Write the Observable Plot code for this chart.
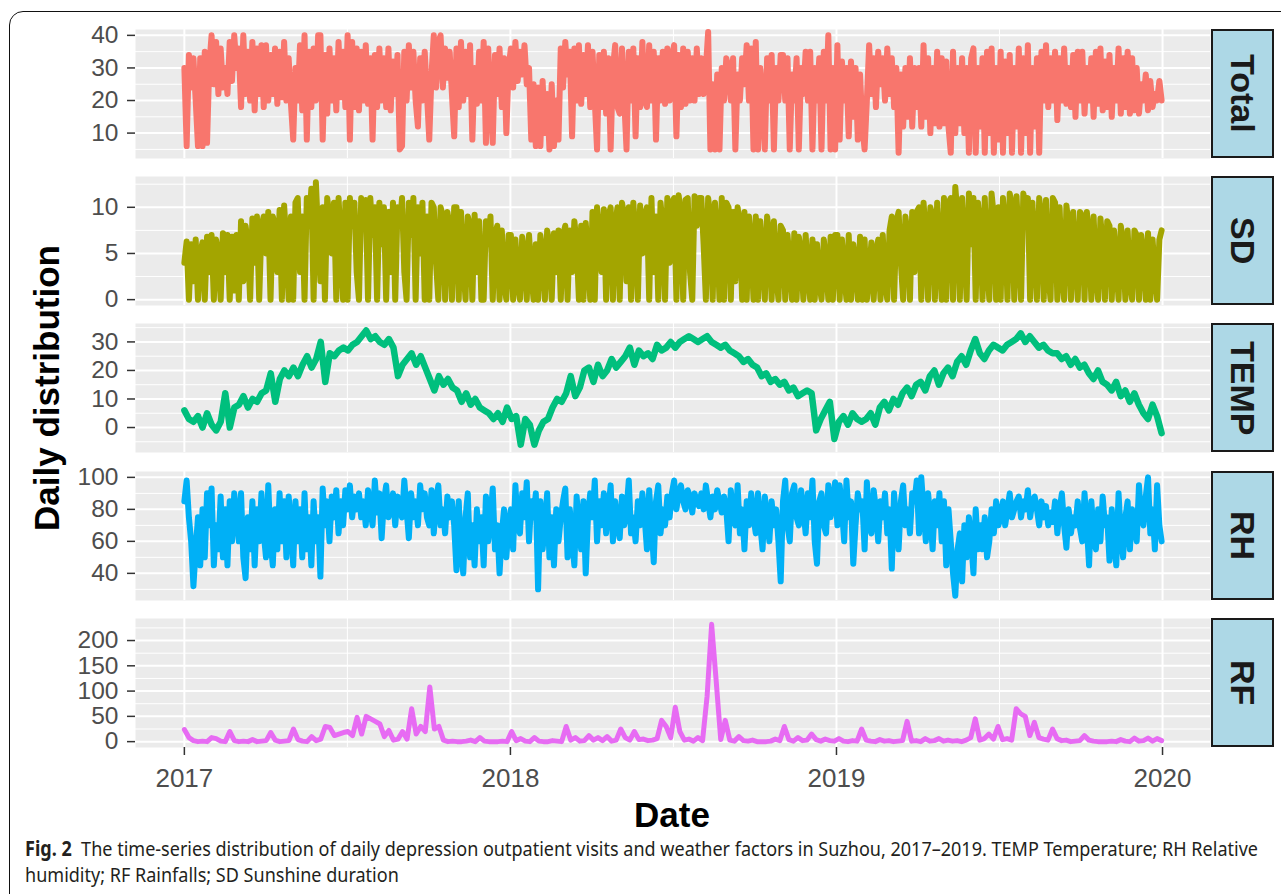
<!DOCTYPE html>
<html>
<head>
<meta charset="utf-8">
<script src="https://cdn.jsdelivr.net/npm/d3@7"></script>
<script src="https://cdn.jsdelivr.net/npm/@observablehq/plot@0.6"></script>
<style>
  html, body { margin: 0; padding: 0; background: #fff; }
  body { width: 1281px; height: 894px; overflow: hidden; position: relative; font-family: "Liberation Sans", Arial, sans-serif; }
  #frame { position: absolute; left: 9px; top: 11px; width: 1320px; height: 940px; border: 1.5px solid #111; border-radius: 14px; box-sizing: border-box; }
  .panel { position: absolute; left: 0; }
  .strip { position: absolute; left: 1211px; width: 63px; box-sizing: border-box; background: #ADD8E6; border: 2px solid #1a1a1a; display: flex; align-items: center; justify-content: center; }
  .strip span { writing-mode: vertical-rl; font-weight: bold; font-size: 34px; color: #1a1a1a; line-height: 1; }
  #ytitle { position: absolute; left: 46px; top: 388px; transform: translate(-50%, -50%) rotate(-90deg); white-space: nowrap; font-weight: bold; font-size: 35px; color: #000; line-height: 1; }
  #xtitle { position: absolute; left: 572px; width: 200px; top: 797px; text-align: center; font-weight: bold; font-size: 35px; color: #000; line-height: 1; }
  .cap { position: absolute; left: 25px; white-space: nowrap; font-family: "Noto Sans", "Open Sans", sans-serif; font-size: 20.5px; line-height: 20px; color: #231F20; transform-origin: 0 0; }
  .cap b { font-weight: bold; }
</style>
</head>
<body>
<div id="frame"></div>
<div id="panels"></div>
<div id="ytitle">Daily distribution</div>
<div id="xtitle">Date</div>
<div class="cap" id="cap1" style="top:838px"><b>Fig. 2</b>&nbsp;&nbsp;The time-series distribution of daily depression outpatient visits and weather factors in Suzhou, 2017–2019. TEMP Temperature; RH Relative</div>
<div class="cap" id="cap2" style="top:864px">humidity; RF Rainfalls; SD Sunshine duration</div>
<script>
// ---- Data, samples evenly spaced from 2017-01-01 to 2019-12-31 ----
const seriesNames = ["Total", "SD", "TEMP", "RH", "RF"];
const seriesColors = ["#F8766D", "#A3A500", "#00BF7D", "#00B0F6", "#E76BF3"];

// Total: 12 samples per month
const total = [
  30,6,34,24,33,20,6,33,6,35,7,31,   40,25,38,22,36,24,30,22,38,26,40,30,
  36,18,40,22,35,20,38,17,36,22,37,18, 37,20,34,22,36,19,35,21,38,20,33,19,
  8,30,20,37,17,40,8,35,18,36,20,40,  40,8,34,16,36,20,33,17,38,21,35,18,
  40,8,38,18,36,17,35,20,37,19,33,8,  34,18,36,20,33,18,36,17,32,22,34,5,
  6,35,20,37,24,35,20,12,33,20,35,22, 8,28,40,24,38,40,24,36,27,35,22,9,
  36,18,38,20,35,22,37,8,30,19,35,20, 38,7,36,20,7,34,22,36,18,33,10,30,
  36,24,38,26,35,28,37,25,30,8,25,6,  24,6,26,10,22,5,25,6,20,8,36,24,
  38,28,35,9,36,20,37,19,34,22,37,18, 35,20,5,34,18,35,16,33,5,30,37,18,
  16,36,20,5,35,20,36,9,33,18,38,20,  18,37,20,35,8,33,20,35,19,36,20,33,
  37,9,34,18,36,19,35,20,33,20,36,22, 33,22,30,41,5,25,5,28,5,30,20,33,
  30,20,33,5,28,20,33,25,37,20,36,5,  38,5,30,20,5,33,20,34,5,30,20,34,
  34,20,33,5,28,20,33,5,30,22,35,20,  35,5,30,20,33,5,35,20,40,5,30,5,
  37,8,32,20,30,9,32,15,30,8,28,12,   5,20,37,22,33,18,35,25,33,20,36,22,
  33,18,30,4,28,12,30,15,33,12,30,18, 30,12,37,15,33,10,30,13,35,12,33,13,
  32,12,4,35,10,30,13,33,10,30,4,33,  36,4,30,12,33,4,35,10,36,4,30,8,
  35,4,32,10,34,4,30,12,36,4,33,10,   37,4,30,12,33,4,35,20,37,18,33,20,
  35,14,33,20,36,19,30,18,34,15,35,20, 35,16,30,20,33,15,35,19,36,17,32,18,
  34,15,30,20,36,16,33,18,35,16,33,17, 30,16,25,20,28,17,26,18,22,20,26,20
];

// SD: 12 samples per month
const sd = [
  4,6.3,0,6,2,6.5,0,5,6.2,0,6.8,3,       7,0,6.5,5,0,7.2,3,7,0,6.8,1,7,
  0,8.5,2,8,6,0,8.8,4,9,0,8,9,           5,9.5,0,9,8,3,9.7,0,10.2,6,0,9,
  0,10.5,11,3,9,0,11,8,12,0,12.7,7,      2,10,0,11,9,5,10.5,0,11,6,0,10.5,
  0,11,8,10.5,3,0,11,9,10.8,0,11,7,      10,0,10.5,6,10,0,9.5,3,10.5,0,10,8,
  11,3,0,10.5,7,11,0,10,5,10.5,0,9,      0,10.5,10,4,0,10,9,0,9.5,8,0,10,
  10,0,9.5,4,0,9,8,0,9.2,3,8.5,0,        0,8.5,6,9,0,7,8,0,7.5,2,0,7,
  7,0,6.5,2,0,6.8,5,0,7,3,0,6,           0,7,5,0,7.5,6,0,7.2,3,7.5,0,7,
  8,0,7.5,3,8.5,6,0,8,0,8.3,5,0,         9.5,0,10,7,3,9.8,0,9,10,0,8,10,
  0,10.5,9,2,10,0,10.5,7,0,10.2,5,9,     10,0,11,3,9,0,10.5,8,0,11,4,10.5,
  11,0,11.3,9,0,10.8,11,3,0,11.2,8,11,   11,6,0,11,9,0,10.5,7,0,11,0,10.5,
  10,0,9.5,2,10,8,0,9.5,0,9,6,0,         9,0,8.5,5,0,9,7,0,8.5,3,0,8,
  7.5,0,7,4,0,7.2,0,6.8,5,0,7,3,         0,6.5,0,6,2,0,6.5,4,0,6.8,0,7,
  7,0,6.5,3,0,7,0,6,4,0,6.8,0,           6.5,0,3,6.2,0,5,6.5,0,7,2,0,7.5,
  9,0,8.5,9.5,4,0,9,7,0,9.5,3,9.5,       10,0,10.5,7,0,10,9,0,10.5,5,0,11,
  0,10.5,11,0,12.2,9,0,11,6,0,11.5,6,    11,0,10.5,8,0,11,4,0,11.5,9,0,10,
  0,11,8,0,11.5,10,0,11.2,6,0,11.5,10,   11,0,10.5,6,0,11,9,0,10.8,3,0,11,
  10.5,0,10,3,0,10.2,8,0,9.5,5,0,9.5,    9,0,9.5,7,0,9,3,0,8.8,6,0,8.5,
  8,0,7.5,4,0,8,6,0,7.5,2,0,7.5,         7,0,7,5,0,7.2,0,6.5,3,0,6.5,7.5
];

// TEMP: 6 samples per month
const temp = [
  6,3,2,4,0,5, 1,-1,2,12,0,7, 8,11,7,10,9,12, 13,19,9,17,20,18,
  21,18,22,25,21,24, 30,16,26,25,27,28, 27,29,30,32,34,31, 32,30,29,31,28,18,
  22,24,26,22,25,21, 17,13,18,15,17,14, 13,9,12,8,10,7, 6,5,3,5,2,7,
  3,4,-6,3,1,-6, -1,2,3,7,10,9, 12,18,11,14,20,21, 16,22,18,20,24,21,
  23,25,28,22,27,25, 26,24,29,27,28,30, 28,30,31,32,31,30, 31,32,30,29,28,29,
  27,26,25,23,24,22, 21,18,19,16,17,15, 16,13,14,11,12,13, 12,-1,3,6,9,-4,
  2,4,1,5,3,2, 3,5,1,7,9,6, 10,8,12,14,11,15, 16,13,18,20,15,19,
  21,18,23,25,22,27, 31,26,24,27,29,28, 27,29,30,31,33,30, 32,30,28,29,27,26,
  26,24,25,22,24,21, 22,19,17,20,16,15, 13,16,11,13,9,12, 8,5,3,8,4,-2
];

// RH: 12 samples per month
const rh = [
  85,98,75,60,32,55,75,45,80,50,90,70,  93,45,70,55,88,50,80,45,85,60,90,75,
  60,90,50,37,75,55,85,45,80,60,90,65,  50,95,60,45,80,55,90,60,85,50,88,70,
  45,85,60,80,50,90,55,75,45,85,60,75,  38,93,70,85,60,88,75,92,65,85,70,92,
  80,95,75,88,80,90,75,85,70,92,80,70,  98,78,90,62,85,95,75,80,90,70,88,80,
  75,98,80,62,90,75,85,70,95,80,90,75,  70,92,65,85,95,70,80,65,88,75,85,70,
  42,85,55,40,75,90,50,70,45,80,60,75,  45,88,60,75,93,55,70,40,65,80,50,70,
  80,55,95,70,65,90,75,97,60,85,75,90,  30,85,55,70,90,50,75,45,80,60,75,85,
  93,50,80,60,45,88,70,55,85,40,75,90,  75,98,60,85,70,90,65,80,95,60,85,70,
  62,88,70,80,98,65,75,60,85,70,90,75,  55,92,70,47,85,95,65,80,70,88,75,90,
  98,80,90,95,85,80,92,88,78,90,85,82,  90,80,95,85,75,88,80,92,85,78,88,80,
  60,92,75,70,95,65,80,55,85,70,90,75,  65,90,70,55,88,75,60,85,70,80,60,35,
  85,98,70,60,90,95,75,70,92,80,65,90,  75,98,60,46,85,90,70,65,95,75,85,97,
  70,95,80,60,98,75,85,46,70,90,80,85,  55,97,70,65,92,80,60,85,75,90,65,80,
  43,90,70,55,85,95,70,80,65,90,85,98,  65,100,80,60,90,75,55,85,70,90,60,85,
  45,80,60,40,26,55,65,35,70,50,75,60,  40,80,55,70,55,75,50,60,80,65,85,70,
  75,85,70,80,90,75,80,85,88,75,85,80,  92,75,85,88,80,70,85,75,82,70,78,72,
  85,65,80,90,70,56,80,65,75,70,85,68,  60,90,70,45,85,65,55,80,60,88,70,75,
  48,80,60,45,90,65,50,75,85,55,80,70,  60,95,75,70,88,100,65,80,55,95,70,60
];

// RF: 216 samples (about every 5 days)
const rf = [
  24,8,2,0,1,0,8,6,1,0,20,2,
  0,1,0,4,0,1,2,18,3,0,1,2,
  25,4,1,0,10,2,5,30,28,12,15,18,
  20,12,48,15,50,45,40,35,10,22,3,5,
  20,5,65,15,30,20,108,25,30,3,0,1,
  0,0,1,3,0,8,1,0,0,0,1,0,
  20,2,6,1,0,8,1,0,0,2,1,0,
  30,3,8,1,2,12,3,8,2,10,1,3,
  25,8,3,20,4,5,2,3,6,42,30,8,
  68,20,3,5,1,8,2,90,232,120,4,42,
  3,1,10,2,1,3,0,0,0,1,5,2,
  30,4,1,8,2,3,15,4,1,5,2,1,
  6,1,0,2,1,25,3,1,0,4,1,2,
  0,1,2,40,1,2,0,6,1,2,6,1,
  3,1,2,0,3,8,45,3,6,15,5,30,
  4,6,3,65,55,50,12,38,8,5,3,25,
  6,2,3,0,1,2,12,3,1,0,0,0,
  1,0,4,1,0,7,1,2,7,1,6,2
];

// tick labels
const yearTicks = ["2017-01-01", "2018-01-01", "2019-01-01", "2020-01-01"];
const yearMinorTicks = ["2017-07-02T12:00", "2018-07-02T12:00", "2019-07-02T12:00"];
const totalTicks = [10, 20, 30, 40], totalMinor = [5, 15, 25, 35];
const sdTicks = [0, 5, 10], sdMinor = [2.5, 7.5, 12.5];
const tempTicks = [0, 10, 20, 30], tempMinor = [-5, 5, 15, 25, 35];
const rhTicks = [40, 60, 80, 100], rhMinor = [30, 50, 70, 90];
const rfTicks = [0, 50, 100, 150, 200], rfMinor = [25, 75, 125, 175, 225];

// ---- build ----
const startDate = Date.UTC(2017, 0, 1);
const endDate = Date.UTC(2019, 11, 31);
const span = endDate - startDate;
const xDomain = [new Date(startDate - span * 0.05), new Date(endDate + span * 0.05)];
const years = yearTicks.map(s => new Date(s + "T00:00Z"));
const yearsMinor = yearMinorTicks.map(s => new Date(s + "Z"));

function expand(lo, hi) { const r = hi - lo; return [lo - 0.05 * r, hi + 0.05 * r]; }
function rowsOf(values) {
  const n = values.length;
  return values.map((v, j) => ({date: new Date(startDate + span * j / (n - 1)), value: v}));
}

const panels = [
  {values: total, ticks: totalTicks, minor: totalMinor, domain: expand(4, 40), sw: 6},
  {values: sd, ticks: sdTicks, minor: sdMinor, domain: expand(0, 12.7), sw: 6},
  {values: temp, ticks: tempTicks, minor: tempMinor, domain: expand(-6.7, 34.4), sw: 6.5},
  {values: rh, ticks: rhTicks, minor: rhMinor, domain: expand(26.7, 100), sw: 6},
  {values: rf, ticks: rfTicks, minor: rfMinor, domain: expand(0, 232), sw: 5}
];

const container = document.getElementById("panels");
const panelH = 129, firstTop = 29, pitch = 147.2;
const tickFont = 24.5;

panels.forEach((p, i) => {
  const last = i === panels.length - 1;
  const rows = rowsOf(p.values);
  const mb = last ? 60 : 0;
  const chart = Plot.plot({
    width: 1281,
    height: panelH + mb,
    marginLeft: 135,
    marginRight: 71,
    marginTop: 0,
    marginBottom: mb,
    style: {fontFamily: "'Liberation Sans', Arial, sans-serif", background: "transparent", overflow: "visible"},
    x: {type: "utc", domain: xDomain, axis: null},
    y: {domain: p.domain, axis: null},
    marks: [
      Plot.frame({fill: "#EBEBEB", stroke: "none"}),
      Plot.gridY(p.minor, {stroke: "#fff", strokeOpacity: 1, strokeWidth: 1}),
      Plot.gridY(p.ticks, {stroke: "#fff", strokeOpacity: 1, strokeWidth: 2}),
      Plot.gridX(yearsMinor, {stroke: "#fff", strokeOpacity: 1, strokeWidth: 1}),
      Plot.gridX(years, {stroke: "#fff", strokeOpacity: 1, strokeWidth: 2}),
      Plot.line(rows, {x: "date", y: "value", stroke: seriesColors[i], strokeWidth: p.sw, strokeLinejoin: "round", strokeLinecap: "round"}),
      Plot.axisY(p.ticks, {tickSize: 8, tickPadding: 9, fontSize: tickFont, fill: "#4D4D4D", stroke: "#333", strokeWidth: 1.5, label: null}),
      last ? Plot.axisX(years, {tickSize: 8, tickPadding: 13, fontSize: 26, fill: "#4D4D4D", stroke: "#333", strokeWidth: 1.5, tickFormat: d3.utcFormat("%Y"), label: null}) : null
    ]
  });
  const top = firstTop + i * pitch;
  chart.classList.add("panel");
  chart.style.top = top + "px";
  container.appendChild(chart);

  const strip = document.createElement("div");
  strip.className = "strip";
  strip.style.top = top + "px";
  strip.style.height = panelH + "px";
  const label = document.createElement("span");
  label.textContent = seriesNames[i];
  strip.appendChild(label);
  container.appendChild(strip);
});

// fit caption line width to the reference
const cap1 = document.getElementById("cap1"), cap2 = document.getElementById("cap2");
const w = cap1.getBoundingClientRect().width;
const sx = 1233 / w;
cap1.style.transform = `scaleX(${sx})`;
cap2.style.transform = `scaleX(${sx})`;
</script>
</body>
</html>
